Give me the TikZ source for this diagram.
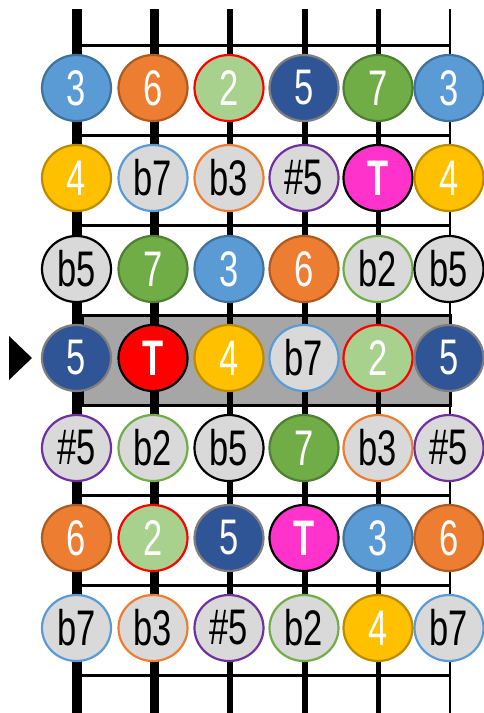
\documentclass[tikz,border=0pt]{standalone}
\usepackage{fontspec}
\setmainfont{Liberation Sans}
\newfontfamily\lab{Liberation Sans}[FakeStretch=0.69]
\usetikzlibrary{shapes.geometric}
\definecolor{cBlue}{HTML}{5B9BD5}
\definecolor{cBlueD}{HTML}{41719C}
\definecolor{cOrange}{HTML}{ED7D31}
\definecolor{cOrangeD}{HTML}{AE5A21}
\definecolor{cLGreen}{HTML}{A9D18E}
\definecolor{cDBlue}{HTML}{2F5597}
\definecolor{cGrayD}{HTML}{7F7F7F}
\definecolor{cGreen}{HTML}{70AD47}
\definecolor{cGreenD}{HTML}{507E32}
\definecolor{cYellow}{HTML}{FFC000}
\definecolor{cYellowD}{HTML}{BC8C00}
\definecolor{cLight}{HTML}{D9D9D9}
\definecolor{cPurple}{HTML}{7030A0}
\definecolor{cMagenta}{HTML}{FF33CC}
\definecolor{cBand}{HTML}{A6A6A6}
\begin{document}
\begin{tikzpicture}[x=1pt,y=-1pt,
  dot/.style={ellipse, minimum width=69pt, minimum height=66pt, inner sep=0pt, line width=2.2pt,
    font=\lab\fontsize{50}{52}\selectfont},
  wdot/.style={dot, text=white},
  kdot/.style={dot, fill=cLight, text=black},
  n3/.style={wdot, fill=cBlue, draw=cBlueD},
  n6/.style={wdot, fill=cOrange, draw=cOrangeD},
  n2/.style={wdot, fill=cLGreen, draw=red},
  n5/.style={wdot, fill=cDBlue, draw=cGrayD},
  n7/.style={wdot, fill=cGreen, draw=cGreenD},
  n4/.style={wdot, fill=cYellow, draw=cYellowD},
  nT/.style={wdot, fill=cMagenta, draw=black},
  nTR/.style={wdot, fill=red, draw=black},
  nb7/.style={kdot, draw=cBlue},
  nb3/.style={kdot, draw=cOrange},
  ns5/.style={kdot, draw=cPurple},
  nb2/.style={kdot, draw=cGreen},
  nb5/.style={kdot, draw=black},
  fret/.style={line width=3pt, black},
  strg/.style={black}
]
\useasboundingbox (0,0) rectangle (484,713);
% highlighted band
\draw[fill=cBand, line width=3pt] (82,315) rectangle (450,405);
% frets
\foreach \k in {0,...,7} {
  \coordinate (fl\k) at (82,45+90*\k);
  \coordinate (fr\k) at (450,45+90*\k);
  \draw[fret] (fl\k) -- (fr\k);
}
% strings
\foreach \x/\w [count=\i] in {77/10, 154/9, 230/6.5, 305/6, 378/5, 450/2.5} {
  \coordinate (st\i) at (\x,9);
  \coordinate (sb\i) at (\x,713);
  \draw[strg, line width=\w pt] (st\i) -- (sb\i);
}
% marker triangle
\fill (9,336) -- (32,358) -- (9,380) -- cycle;
% dots
\def\xa{76.5}\def\xb{153}\def\xc{229}\def\xd{304}\def\xe{378}\def\xf{449}
% row 1
\node[n3] (r1a) at (\xa,88) {3};
\node[n6] (r1b) at (\xb,88) {6};
\node[n2] (r1c) at (\xc,88) {2};
\node[n5] (r1d) at (\xd,88) {5};
\node[n7] (r1e) at (\xe,88) {7};
\node[n3] (r1f) at (\xf,88) {3};
% row 2
\node[n4] (r2a) at (\xa,178) {4};
\node[nb7] (r2b) at (\xb,178) {b7};
\node[nb3] (r2c) at (\xc,178) {b3};
\node[ns5] (r2d) at (\xd,178) {\#5};
\node[nT] (r2e) at (\xe,178) {\bfseries T};
\node[n4] (r2f) at (\xf,178) {4};
% row 3
\node[nb5] (r3a) at (\xa,269) {b5};
\node[n7] (r3b) at (\xb,269) {7};
\node[n3] (r3c) at (\xc,269) {3};
\node[n6] (r3d) at (\xd,269) {6};
\node[nb2] (r3e) at (\xe,269) {b2};
\node[nb5] (r3f) at (\xf,269) {b5};
% row 4
\node[n5] (r4a) at (\xa,358) {5};
\node[nTR] (r4b) at (\xb,358) {\bfseries T};
\node[n4] (r4c) at (\xc,358) {4};
\node[nb7] (r4d) at (\xd,358) {b7};
\node[n2] (r4e) at (\xe,358) {2};
\node[n5] (r4f) at (\xf,358) {5};
% row 5
\node[ns5] (r5a) at (\xa,448) {\#5};
\node[nb2] (r5b) at (\xb,448) {b2};
\node[nb5] (r5c) at (\xc,448) {b5};
\node[n7] (r5d) at (\xd,448) {7};
\node[nb3] (r5e) at (\xe,448) {b3};
\node[ns5] (r5f) at (\xf,448) {\#5};
% row 6
\node[n6] (r6a) at (\xa,538) {6};
\node[n2] (r6b) at (\xb,538) {2};
\node[n5] (r6c) at (\xc,538) {5};
\node[nT] (r6d) at (\xd,538) {\bfseries T};
\node[n3] (r6e) at (\xe,538) {3};
\node[n6] (r6f) at (\xf,538) {6};
% row 7
\node[nb7] (r7a) at (\xa,628) {b7};
\node[nb3] (r7b) at (\xb,628) {b3};
\node[ns5] (r7c) at (\xc,628) {\#5};
\node[nb2] (r7d) at (\xd,628) {b2};
\node[n4] (r7e) at (\xe,628) {4};
\node[nb7] (r7f) at (\xf,628) {b7};
\end{tikzpicture}
\end{document}
